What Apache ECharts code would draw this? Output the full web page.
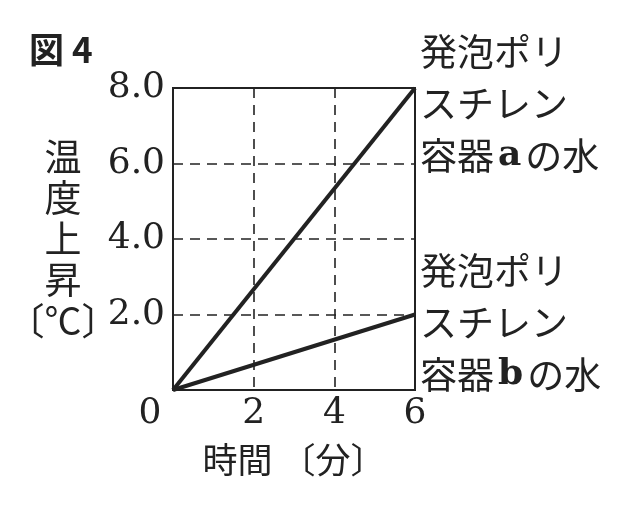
<!DOCTYPE html>
<html><head><meta charset="utf-8">
<script src="https://cdn.jsdelivr.net/npm/echarts@6/dist/echarts.min.js"></script>
<style>html,body{margin:0;padding:0;background:#fff}#c{width:640px;height:506px}</style>
</head><body><div id="c"></div>
<script>
const xTicks = [0, 2, 4, 6];
const yTicks = [0, 2, 4, 6, 8];
const seriesA = [[0, 0], [6, 8]];
const seriesB = [[0, 0], [6, 2]];
const labelA = ['発泡ポリ', 'スチレン', '容器{ab|a}の水'];
const labelB = ['発泡ポリ', 'スチレン', '容器{ab|b}の水'];
const titleText = '図 4';
const xName = '時間 〔分〕';
const yName = ['温', '度', '上', '昇', '〔℃〕'];

const cjk = '"Noto Sans CJK JP"';
const serif = '"DejaVu Serif", "Liberation Serif", serif';
const endLbl = (lines, dy) => ({
  show: true, formatter: lines.join('\n'), color: '#222', fontFamily: cjk,
  fontSize: 37, lineHeight: 52, align: 'left', verticalAlign: 'middle',
  distance: 5, offset: [0, dy],
  rich: { ab: { fontFamily: serif, fontWeight: 'bold', fontSize: 36, color: '#222', padding: [0, 4, 0, 4] } }
});

const chart = echarts.init(document.getElementById('c'));
chart.setOption({
  animation: false,
  backgroundColor: '#fff',
  title: { text: titleText, left: 24, top: 27,
    textStyle: { fontFamily: cjk, fontSize: 35, fontWeight: 'bold', color: '#222' } },
  grid: { left: 173, right: 225, top: 88, bottom: 116, show: true,
    outerBoundsMode: 'none', containLabel: false,
    borderColor: '#222', borderWidth: 2, backgroundColor: 'transparent' },
  xAxis: {
    type: 'value', min: 0, max: 6, interval: 2,
    name: xName, nameLocation: 'middle', nameGap: 52, nameMoveOverlap: false,
    nameTextStyle: { fontFamily: cjk, fontSize: 35, color: '#222' },
    axisLine: { show: true, lineStyle: { color: '#222', width: 2 } },
    axisTick: { show: false },
    splitLine: { show: true, lineStyle: { color: '#222', width: 1.6, type: [10, 7] } },
    axisLabel: { fontFamily: serif, fontSize: 36, color: '#222', margin: 6,
      formatter: v => v === 0 ? '{o|0}' : String(v),
      rich: { o: { fontFamily: serif, fontSize: 36, color: '#222', padding: [0, 46, 0, 0] } } }
  },
  yAxis: {
    type: 'value', min: 0, max: 8, interval: 2,
    name: yName.join('\n'), nameLocation: 'middle', nameGap: 110, nameRotate: 0, nameMoveOverlap: false,
    nameTextStyle: { fontFamily: cjk, fontSize: 37, lineHeight: 41, color: '#222', align: 'center' },
    axisLine: { show: true, lineStyle: { color: '#222', width: 2 } },
    axisTick: { show: false },
    splitLine: { show: true, lineStyle: { color: '#222', width: 1.6, type: [10, 7] } },
    axisLabel: { fontFamily: serif, fontSize: 36, color: '#222', margin: 8,
      formatter: v => v === 0 ? '' : v.toFixed(1) }
  },
  series: [
    { type: 'line', data: seriesA, symbol: 'none', lineStyle: { color: '#222', width: 4 },
      endLabel: endLbl(labelA, 16) },
    { type: 'line', data: seriesB, symbol: 'none', lineStyle: { color: '#222', width: 4 },
      endLabel: endLbl(labelB, 8) }
  ]
});
</script></body></html>
